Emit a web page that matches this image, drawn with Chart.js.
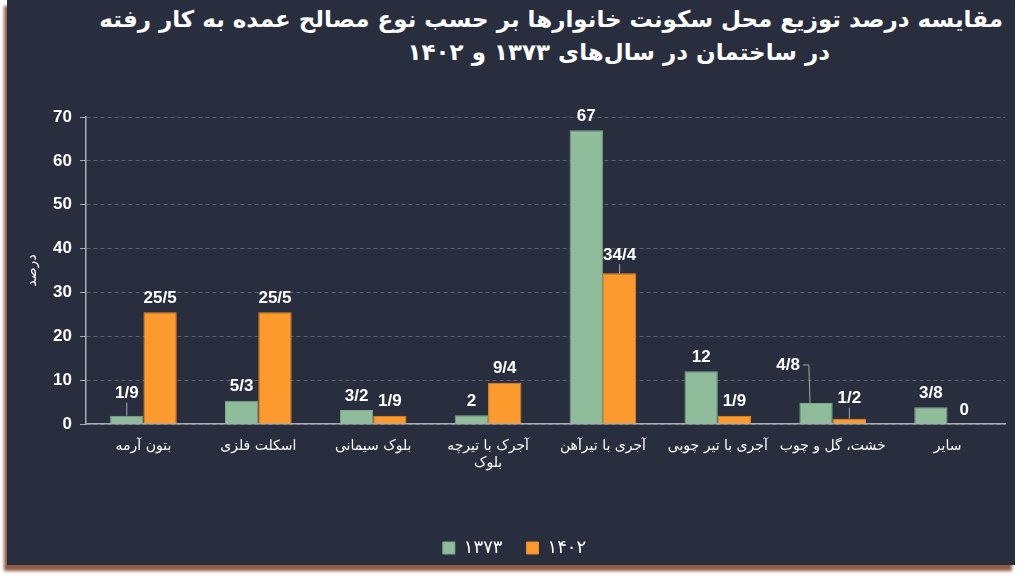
<!DOCTYPE html>
<html lang="fa">
<head>
  <meta charset="UTF-8" />
  <title>مقایسه درصد توزیع محل سکونت خانوارها</title>
  <script src="https://cdn.jsdelivr.net/npm/chart.js"></script>
  <style>
    body {
      margin: 0;
      width: 1024px;
      height: 580px;
      background: #ffffff;
      position: relative;
      overflow: hidden;
    }

    .panel {
      position: absolute;
      left: 7px;
      top: 0;
      width: 1008px;
      height: 565px;
      background: #292e3e;
      box-shadow: -3px 6px 3px rgba(125, 62, 35, 0.85);
    }

    .title {
      position: absolute;
      direction: rtl;
      color: #ffffff;
      font-family: 'DejaVu Sans', sans-serif;
      font-weight: bold;
      font-size: 23px;
      white-space: nowrap;
    }

    .t1 { right: 21px; top: 6px; }
    .t2 { right: 194px; top: 39px; }

    canvas {
      position: absolute;
      left: 0;
      top: 0;
    }
  </style>
</head>
<body>
  <div class="panel"></div>
  <div class="title t1">مقایسه درصد توزیع محل سکونت خانوارها بر حسب نوع مصالح عمده به کار رفته</div>
  <div class="title t2">در ساختمان در سال‌های ۱۳۷۳ و ۱۴۰۲</div>
  <canvas id="chart" width="1024" height="580"></canvas>

  <script>
    const categories = [
      'بتون آرمه',
      'اسکلت فلزی',
      'بلوک سیمانی',
      ['آجرک با تیرچه', 'بلوک'],
      'آجری با تیرآهن',
      'آجری با تیر چوبی',
      'خشت، گل و چوب',
      'سایر'
    ];
    const years = ['۱۳۷۳', '۱۴۰۲'];
    const values1373 = [1.9, 5.3, 3.2, 2, 67, 12, 4.8, 3.8];
    const values1402 = [25.5, 25.5, 1.9, 9.4, 34.4, 1.9, 1.2, 0];
    const yTicks = [0, 10, 20, 30, 40, 50, 60, 70];

    const latinFont = "'Liberation Sans', Arial, sans-serif";
    const persianFont = "'DejaVu Sans', sans-serif";

    // labels above bars, decimal point written as "/"
    const valueLabels = {
      id: 'valueLabels',
      afterDatasetsDraw(chart, args, opts) {
        const ctx = chart.ctx;
        ctx.save();
        ctx.font = 'bold 17px ' + latinFont;
        ctx.fillStyle = '#ffffff';
        ctx.textAlign = 'center';
        ctx.textBaseline = 'middle';
        chart.data.datasets.forEach((ds, di) => {
          chart.getDatasetMeta(di).data.forEach((bar, i) => {
            const text = String(ds.data[i]).replace('.', '/');
            const off = opts.offsets[di + '-' + i] || [0, 0];
            const x = bar.x + off[0];
            const y = bar.y - 14 + off[1];
            if (off[0] !== 0 || off[1] < -3) {
              ctx.strokeStyle = '#a8a8a8';
              ctx.lineWidth = 1;
              ctx.beginPath();
              if (off[0] !== 0) {
                const w = ctx.measureText(text).width;
                ctx.moveTo(x + w / 2 + 3, y);
                ctx.lineTo(x + w / 2 + 9, y);
              } else {
                ctx.moveTo(x, y + 9);
              }
              ctx.lineTo(bar.x + (off[0] !== 0 ? -6 : 0), bar.y);
              ctx.stroke();
            }
            ctx.fillText(text, x, y);
          });
        });
        ctx.restore();
      }
    };

    new Chart(document.getElementById('chart'), {
      type: 'bar',
      data: {
        labels: categories,
        datasets: [
          {
            label: years[0],
            data: values1373,
            backgroundColor: '#8fbc9b',
            borderColor: '#7eaa8a',
            borderWidth: 1,
            categoryPercentage: 0.58,
            barPercentage: 1.0
          },
          {
            label: years[1],
            data: values1402,
            backgroundColor: '#fd9a2e',
            borderColor: '#e88a25',
            borderWidth: 1,
            categoryPercentage: 0.58,
            barPercentage: 1.0
          }
        ]
      },
      options: {
        responsive: false,
        animation: false,
        layout: {
          padding: { top: 117, right: 19, bottom: 13, left: 24 }
        },
        scales: {
          x: {
            grid: { display: false },
            border: { display: true, color: '#a9abb1', width: 1.5 },
            ticks: {
              color: '#ffffff',
              padding: 6,
              maxRotation: 0,
              autoSkip: false,
              font: { family: persianFont, size: 14 }
            },
            afterFit(scale) { scale.height = 91; }
          },
          y: {
            min: 0,
            max: 70,
            afterBuildTicks(scale) {
              scale.ticks = yTicks.map(v => ({ value: v }));
            },
            grid: {
              color: '#5f6474',
              tickLength: 6,
              tickColor: '#a9abb1'
            },
            border: { display: true, color: '#a9abb1', width: 1.5, dash: [4, 3] },
            ticks: {
              color: '#ffffff',
              padding: 8,
              font: { family: latinFont, size: 17, weight: 'bold' }
            },
            title: {
              display: true,
              text: 'درصد',
              color: '#ffffff',
              font: { family: persianFont, size: 14 },
              padding: { top: 0, bottom: 4 }
            },
            afterFit(scale) { scale.width = 62; }
          }
        },
        plugins: {
          legend: {
            position: 'bottom',
            labels: {
              color: '#ffffff',
              boxWidth: 12,
              boxHeight: 12,
              padding: 24,
              font: { family: persianFont, size: 18 }
            }
          },
          tooltip: { enabled: false },
          valueLabels: {
            offsets: {
              '0-0': [0, -8],
              '1-4': [0, -4],
              '0-6': [-28, -24],
              '1-6': [0, -6]
            }
          }
        }
      },
      plugins: [valueLabels]
    });
  </script>
</body>
</html>
